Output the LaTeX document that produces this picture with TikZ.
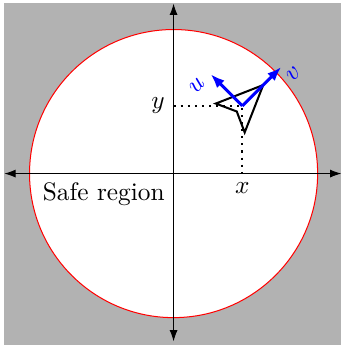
\documentclass[tikz,border=0pt]{standalone}
\usetikzlibrary{arrows.meta}
\begin{document}
\begin{tikzpicture}[axis/.style={{Latex[length=4.5pt,width=3.2pt]}-{Latex[length=4.5pt,width=3.2pt]}},
        frame/.style={-{Latex[length=5.5pt,width=4.2pt]}, very thick, blue}]
        % Background (unsafe region)
        \useasboundingbox (-2.41,-2.38) rectangle (2.33,2.41);
        \fill[gray!60] (-2.355,-2.38) rectangle (2.33,2.37);
        
        % Safe region
        \coordinate (origin) at (0,0);
        \draw[red, fill=white] (origin) circle (2);
        
        % Axes
        \coordinate (west) at (-2.35,0);
        \coordinate (east) at (2.33,0);
        \coordinate (south) at (0,-2.33);
        \coordinate (north) at (0,2.36);
        \draw[axis] (west) -- (east);
        \draw[axis] (south) -- (north);
        \node[below left] (safe) at (origin) {Safe region};
        
        % Agent position
        \coordinate (agent) at (0.955,0.94);
        \coordinate (xfoot) at (0.955,0);
        \coordinate (yfoot) at (0,0.94);
        \draw[thick, dotted] (yfoot) -- (agent) -- (xfoot);
        \node[left] (ylabel) at (yfoot) {$y$};
        \node[below] (xlabel) at (xfoot) {$x$};
        
        % Agent body
        \draw[thick] ([shift={(45:0.41)}]agent) -- ([shift={(175:0.37)}]agent) -- ([shift={(225:0.11)}]agent) -- ([shift={(-85:0.37)}]agent) -- cycle;
        
        % Body frame
        \coordinate (utip) at ([shift={(135:0.62)}]agent);
        \coordinate (vtip) at ([shift={(45:0.76)}]agent);
        \draw[frame] (agent) -- (utip);
        \draw[frame] (agent) -- (vtip);
        \node[blue, rotate=45] (ulabel) at ([shift={(-0.63,0.28)}]agent) {$u$};
        \node[blue, rotate=45] (vlabel) at ([shift={(0.71,0.44)}]agent) {$v$};
    \end{tikzpicture}
\end{document}
